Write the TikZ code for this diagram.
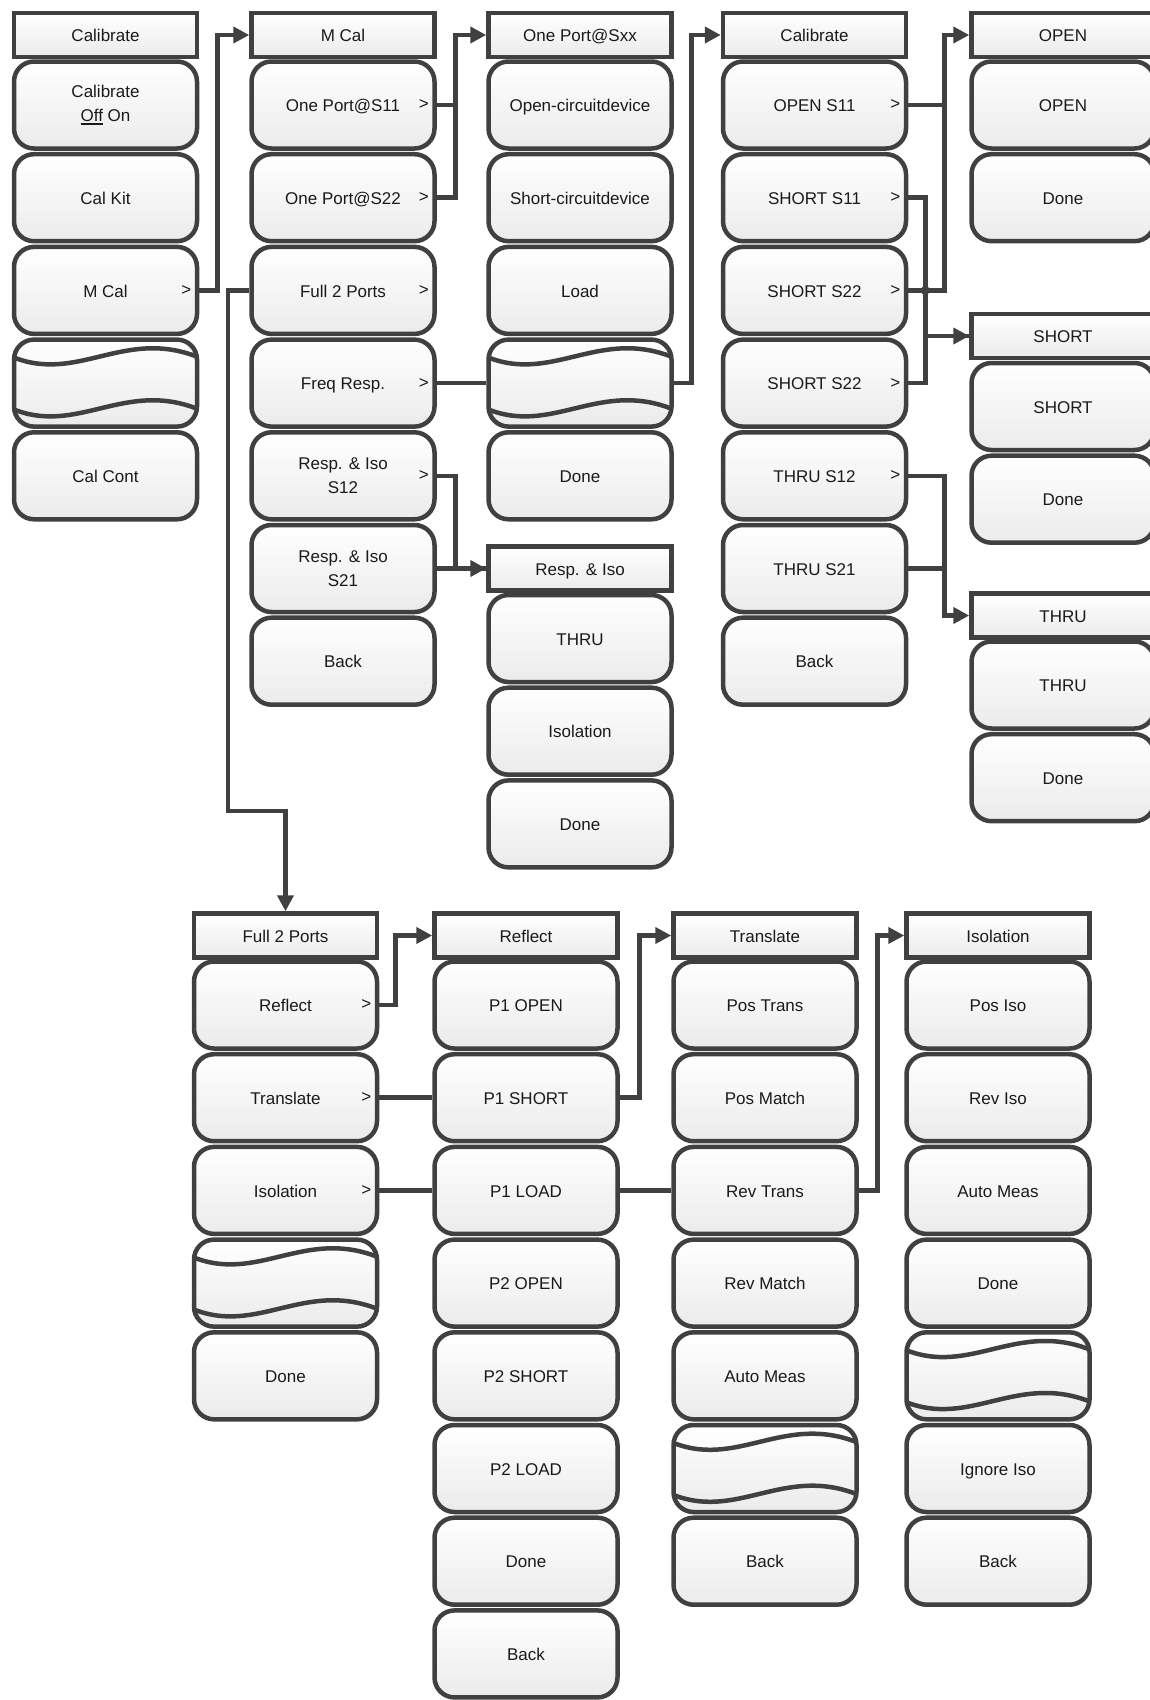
\documentclass[tikz,border=0pt]{standalone}
\usepackage{fontspec}
\setmainfont{Liberation Sans}
\usetikzlibrary{arrows.meta,backgrounds,calc}
\definecolor{edge}{HTML}{404040}
\definecolor{txt}{HTML}{1A1A1A}
\definecolor{shadeb}{HTML}{EBEBEB}
\newcommand\myul[1]{\vtop{\hbox{#1}\kern1.5pt\hrule height 1.5pt}}
\newcommand\gtmark[1]{\node[gtsym] (#1g) at ([xshift=-13pt]#1.east) {>};}
\tikzset{
  base/.style={draw=edge, line width=4.5pt, shade, top color=white, bottom color=shadeb,
    inner sep=0pt, text=txt, font=\fontsize{17}{24}\selectfont, align=center, minimum width=183pt},
  hdr/.style={base, rectangle, minimum height=44pt, text height=15pt, text depth=1.5pt},
  btntwo/.style={base, rectangle, rounded corners=20pt, minimum height=87pt},
  btn/.style={btntwo, text height=15pt, text depth=1.5pt},
  wavy/.style={btntwo, path picture={
      \draw[draw=edge, line width=4.5pt, shift={(path picture bounding box.center)}]
        (-95,-27) .. controls (-28,2) and (19,-57) .. (95,-25)
        (-95,25) .. controls (-28,54) and (19,-5) .. (95,27);}},
  link/.style={draw=edge, line width=4.5pt},
  arr/.style={link, -{Triangle[length=16pt,width=16pt]}},
  gtsym/.style={inner sep=0pt, text=txt, font=\fontsize{17}{20}\selectfont}
}
\begin{document}
\begin{tikzpicture}[x=1pt,y=-1pt]
\useasboundingbox (0,0) rectangle (1150,1700);
\clip (0,0) rectangle (1150,1700);
% ---------- column 1
\node[hdr] (c1h) at (105.5,35) {Calibrate};
\node[btntwo] (c1r0) at (105.5,105) {Calibrate\\\myul{Off} On};
\node[btn] (c1r1) at (105.5,197.7) {Cal Kit};
\node[btn] (c1r2) at (105.5,290.4) {M Cal}; \gtmark{c1r2}
\node[wavy] (c1r3) at (105.5,383.1) {};
\node[btn] (c1r4) at (105.5,475.8) {Cal Cont};
% ---------- column 2
\node[hdr] (c2h) at (343,35) {M Cal};
\node[btn] (c2r0) at (343,105) {One Port@S11}; \gtmark{c2r0}
\node[btn] (c2r1) at (343,197.7) {One Port@S22}; \gtmark{c2r1}
\node[btn] (c2r2) at (343,290.4) {Full 2 Ports}; \gtmark{c2r2}
\node[btn] (c2r3) at (343,383.1) {Freq Resp.}; \gtmark{c2r3}
\node[btntwo] (c2r4) at (343,475.8) {Resp. \& Iso\\S12}; \gtmark{c2r4}
\node[btntwo] (c2r5) at (343,568.5) {Resp. \& Iso\\S21};
\node[btn] (c2r6) at (343,661.2) {Back};
% ---------- column 3
\node[hdr] (c3h) at (580,35) {One Port@Sxx};
\node[btn] (c3r0) at (580,105) {Open-circuitdevice};
\node[btn] (c3r1) at (580,197.7) {Short-circuitdevice};
\node[btn] (c3r2) at (580,290.4) {Load};
\node[wavy] (c3r3) at (580,383.1) {};
\node[btn] (c3r4) at (580,475.8) {Done};
\node[hdr] (c3h2) at (580,568.5) {Resp. \& Iso};
\node[btn] (c3s0) at (580,638.5) {THRU};
\node[btn] (c3s1) at (580,731.2) {Isolation};
\node[btn] (c3s2) at (580,823.9) {Done};
% ---------- column 4
\node[hdr] (c4h) at (814.5,35) {Calibrate};
\node[btn] (c4r0) at (814.5,105) {OPEN S11}; \gtmark{c4r0}
\node[btn] (c4r1) at (814.5,197.7) {SHORT S11}; \gtmark{c4r1}
\node[btn] (c4r2) at (814.5,290.4) {SHORT S22}; \gtmark{c4r2}
\node[btn] (c4r3) at (814.5,383.1) {SHORT S22}; \gtmark{c4r3}
\node[btn] (c4r4) at (814.5,475.8) {THRU S12}; \gtmark{c4r4}
\node[btn] (c4r5) at (814.5,568.5) {THRU S21};
\node[btn] (c4r6) at (814.5,661.2) {Back};
% ---------- column 5
\node[hdr] (c5h1) at (1063,35) {OPEN};
\node[btn] (c5a0) at (1063,105) {OPEN};
\node[btn] (c5a1) at (1063,197.7) {Done};
\node[hdr] (c5h2) at (1063,336) {SHORT};
\node[btn] (c5b0) at (1063,406.5) {SHORT};
\node[btn] (c5b1) at (1063,499.2) {Done};
\node[hdr] (c5h3) at (1063,615.5) {THRU};
\node[btn] (c5c0) at (1063,685) {THRU};
\node[btn] (c5c1) at (1063,777.7) {Done};
% ---------- bottom column 1
\node[hdr] (b1h) at (285.5,935.5) {Full 2 Ports};
\node[btn] (b1r0) at (285.5,1005) {Reflect}; \gtmark{b1r0}
\node[btn] (b1r1) at (285.5,1097.7) {Translate}; \gtmark{b1r1}
\node[btn] (b1r2) at (285.5,1190.4) {Isolation}; \gtmark{b1r2}
\node[wavy] (b1r3) at (285.5,1283.1) {};
\node[btn] (b1r4) at (285.5,1375.8) {Done};
% ---------- bottom column 2
\node[hdr] (b2h) at (526,935.5) {Reflect};
\node[btn] (b2r0) at (526,1005) {P1 OPEN};
\node[btn] (b2r1) at (526,1097.7) {P1 SHORT};
\node[btn] (b2r2) at (526,1190.4) {P1 LOAD};
\node[btn] (b2r3) at (526,1283.1) {P2 OPEN};
\node[btn] (b2r4) at (526,1375.8) {P2 SHORT};
\node[btn] (b2r5) at (526,1468.5) {P2 LOAD};
\node[btn] (b2r6) at (526,1561.2) {Done};
\node[btn] (b2r7) at (526,1653.9) {Back};
% ---------- bottom column 3
\node[hdr] (b3h) at (765,935.5) {Translate};
\node[btn] (b3r0) at (765,1005) {Pos Trans};
\node[btn] (b3r1) at (765,1097.7) {Pos Match};
\node[btn] (b3r2) at (765,1190.4) {Rev Trans};
\node[btn] (b3r3) at (765,1283.1) {Rev Match};
\node[btn] (b3r4) at (765,1375.8) {Auto Meas};
\node[wavy] (b3r5) at (765,1468.5) {};
\node[btn] (b3r6) at (765,1561.2) {Back};
% ---------- bottom column 4
\node[hdr] (b4h) at (998,935.5) {Isolation};
\node[btn] (b4r0) at (998,1005) {Pos Iso};
\node[btn] (b4r1) at (998,1097.7) {Rev Iso};
\node[btn] (b4r2) at (998,1190.4) {Auto Meas};
\node[btn] (b4r3) at (998,1283.1) {Done};
\node[wavy] (b4r4) at (998,1375.8) {};
\node[btn] (b4r5) at (998,1468.5) {Ignore Iso};
\node[btn] (b4r6) at (998,1561.2) {Back};
\coordinate (f2bend) at (228,811);
% ---------- connectors
\begin{pgfonlayer}{background}
\draw[arr] (c1r2.east) -- ++(18,0) |- (c2h.west);
\draw[link] (c2r0.east) -- ++(18.5,0);
\draw[arr] (c2r1.east) -- ++(18.5,0) |- (c3h.west);
\draw[arr] (c2r2.west) -| (f2bend) -| (b1h.north);
\draw[link] (c2r3.east) -- (c3r3.west);
\draw[arr] (c3r3.east) -- ++(17.5,0) |- (c4h.west);
\draw[arr] (c2r4.east) -- ++(18.5,0) |- (c3h2.west);
\draw[link] (c2r5.east) -- (c3h2.west);
\draw[link] (c4r0.east) -- ++(36,0);
\draw[arr] (c4r2.east) -- ++(36,0) |- (c5h1.west);
\draw[arr] (c4r1.east) -- ++(17,0) |- (c5h2.west);
\draw[link] (c4r3.east) -- ++(17,0) |- (c5h2.west);
\fill[edge] ([xshift=17pt]c4r2.east) circle (4.5pt);
\draw[arr] (c4r4.east) -- ++(36,0) |- (c5h3.west);
\draw[link] (c4r5.east) -- ++(36,0);
\draw[arr] (b1r0.east) -- ++(16,0) |- (b2h.west);
\draw[link] (b1r1.east) -- (b2r1.west);
\draw[arr] (b2r1.east) -- ++(19.5,0) |- (b3h.west);
\draw[link] (b1r2.east) -- (b2r2.west);
\draw[link] (b2r2.east) -- (b3r2.west);
\draw[arr] (b3r2.east) -- ++(18.5,0) |- (b4h.west);
\end{pgfonlayer}
\end{tikzpicture}
\end{document}
